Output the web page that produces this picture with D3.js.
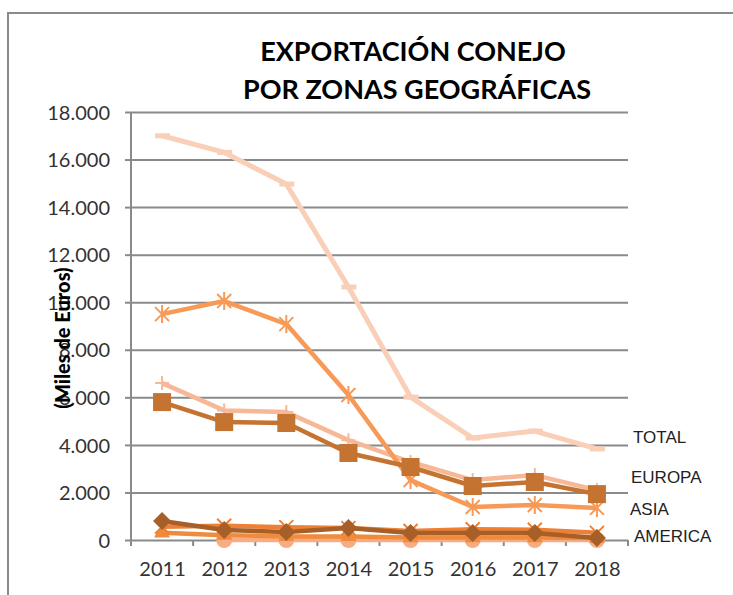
<!DOCTYPE html>
<html>
<head>
<meta charset="utf-8">
<script src="https://cdn.jsdelivr.net/npm/d3@7"></script>
<style>
  body { margin: 0; background: #fff; }
  svg { display: block; }
  .ylab text, .xlab text { font-family: Lato, sans-serif; font-size: 20px; fill: #333; }
</style>
</head>
<body>
<div id="chart"></div>
<script>

// data (miles de euros)
const years = [2011, 2012, 2013, 2014, 2015, 2016, 2017, 2018];
const total   = [17000, 16300, 14970, 10640, 6010, 4290, 4580, 3830];
const otros   = [6600, 5450, 5380, 4200, 3280, 2520, 2730, 2100];
const asia    = [9500, 10050, 9080, 6100, 2520, 1390, 1470, 1350];
const europa  = [5800, 4960, 4920, 3660, 3070, 2270, 2440, 1930];
const triang  = [300, 200, 150, 150, 100, 100, 100, 80];
const circ    = [null, 0, 0, 0, 0, 0, 0, 0];
const equis   = [560, 600, 540, 500, 380, 450, 430, 300];
const america = [800, 420, 340, 500, 290, 290, 290, 80];
const yTicks  = [0, 2000, 4000, 6000, 8000, 10000, 12000, 14000, 16000, 18000];
const endLabels = ["TOTAL", "EUROPA", "ASIA", "AMERICA"];

const W = 733, H = 595;
const svg = d3.select("#chart").append("svg").attr("width", W).attr("height", H);

// outer frame (only top/left show in the picture)
svg.append("rect").attr("x", 8).attr("y", 13).attr("width", 760).attr("height", 620)
   .attr("fill", "none").attr("stroke", "#8a8a8a").attr("stroke-width", 2);

const pL = 131, pR = 628, pT = 112, pB = 540;

const y = d3.scaleLinear().domain([0, 18000]).range([pB, pT]);
const x = d3.scalePoint().domain(years).range([pL, pR]).padding(0.5);
const xb = d3.scaleBand().domain(years).range([pL, pR]);

const loc = d3.formatLocale({ decimal: ",", thousands: ".", grouping: [3], currency: ["", ""] });
const fmt = loc.format(",");

// gridlines
svg.append("g")
   .attr("transform", `translate(${pL},0)`)
   .call(d3.axisLeft(y).tickValues(yTicks).tickSize(-(pR - pL)).tickFormat(""))
   .call(g => g.select(".domain").remove())
   .selectAll("line").attr("stroke", "#8a8a8a").attr("stroke-width", 2);

// y axis
svg.append("g").attr("class", "ylab")
   .attr("transform", `translate(${pL},0)`)
   .call(d3.axisLeft(y).tickValues(yTicks).tickSize(6).tickPadding(15).tickFormat(fmt))
   .call(g => g.select(".domain").attr("stroke", "#8a8a8a").attr("stroke-width", 2)
        .attr("d", `M0,${pT}V${pB + 6}`))
   .call(g => g.selectAll("line").attr("stroke", "#8a8a8a").attr("stroke-width", 2))
   .selectAll("text").attr("dy", "0.36em");

// x ticks at category boundaries
const bounds = years.map(d => xb(d) + xb.bandwidth()).concat([pL]);
svg.append("g").selectAll("line").data(bounds).join("line")
   .attr("x1", d => d).attr("x2", d => d)
   .attr("y1", pB).attr("y2", pB + 6)
   .attr("stroke", "#8a8a8a").attr("stroke-width", 2);

// x labels
svg.append("g").attr("class", "xlab")
   .attr("transform", `translate(0,${pB})`)
   .call(d3.axisBottom(x).tickSize(0).tickPadding(22))
   .call(g => g.select(".domain").remove());

// series
const line = d3.line()
   .defined(d => d != null)
   .x((d, i) => x(years[i]))
   .y(d => y(d));

function sym(type, size) { return d3.symbol().type(type).size(size)(); }

const series = [
  { v: total,   c: "#f9cfb8", w: 5,   m: "dash" },
  { v: otros,   c: "#f6b896", w: 4.5, m: "plus" },
  { v: asia,    c: "#f79a57", w: 4.5, m: "star" },
  { v: circ,    c: "#f6ad86", w: 4.5, m: "circle" },
  { v: triang,  c: "#f08a3c", w: 4.5, m: "triangle" },
  { v: equis,   c: "#ee8035", w: 4.5, m: "x" },
  { v: europa,  c: "#c47330", w: 4.5, m: "square" },
  { v: america, c: "#a65f28", w: 4.5, m: "diamond" }
];

series.forEach(s => {
  svg.append("path").datum(s.v)
     .attr("d", line).attr("fill", "none")
     .attr("stroke", s.c).attr("stroke-width", s.w).attr("stroke-linejoin", "round");

  const g = svg.append("g").selectAll("g")
     .data(s.v.map((d, i) => [years[i], d]).filter(d => d[1] != null))
     .join("g")
     .attr("transform", d => `translate(${x(d[0])},${y(d[1])})`);

  if (s.m === "dash") {
    g.append("rect").attr("x", -7).attr("y", -2.5).attr("width", 15).attr("height", 5).attr("fill", s.c);
  } else if (s.m === "plus") {
    g.append("path").attr("d", "M-7,0H7M0,-7V7").attr("stroke", s.c).attr("stroke-width", 2);
  } else if (s.m === "star") {
    g.append("path").attr("d", "M-7,-7L7,7M-7,7L7,-7M0,-9V9").attr("stroke", s.c).attr("stroke-width", 2);
  } else if (s.m === "x") {
    g.append("path").attr("d", "M-7,-7L7,7M-7,7L7,-7").attr("stroke", s.c).attr("stroke-width", 2);
  } else if (s.m === "square") {
    g.append("rect").attr("x", -9).attr("y", -9).attr("width", 18).attr("height", 18).attr("fill", s.c);
  } else if (s.m === "diamond") {
    g.append("path").attr("d", "M0,-9L9,0L0,9L-9,0Z").attr("fill", s.c);
  } else if (s.m === "triangle") {
    g.append("path").attr("d", sym(d3.symbolTriangle, 110)).attr("fill", s.c);
  } else if (s.m === "circle") {
    g.append("circle").attr("r", 8).attr("fill", s.c);
  }
});

// title
const title = svg.append("text").attr("text-anchor", "middle")
   .style("font-family", "Lato, sans-serif").style("font-weight", "bold")
   .style("font-size", "27px").attr("fill", "#000");
title.append("tspan").attr("x", 413).attr("y", 61).text("EXPORTACIÓN CONEJO");
title.append("tspan").attr("x", 417).attr("y", 99).text("POR ZONAS GEOGRÁFICAS");

// y axis title
svg.append("text")
   .attr("transform", "translate(70,338) rotate(-90)")
   .attr("text-anchor", "middle")
   .style("font-family", "Lato, sans-serif").style("font-weight", "900")
   .style("font-size", "20px").attr("fill", "#000")
   .text("(Miles de Euros)");

// labels at the right
const labX = [633, 631, 630, 634];
const labY = [443, 483, 515, 542];
svg.append("g").selectAll("text").data(endLabels).join("text")
   .attr("x", (d, i) => labX[i]).attr("y", (d, i) => labY[i])
   .style("font-family", "'Liberation Sans', Arial, sans-serif")
   .style("font-size", "17px").attr("fill", "#222")
   .text(d => d);

</script>
</body>
</html>
